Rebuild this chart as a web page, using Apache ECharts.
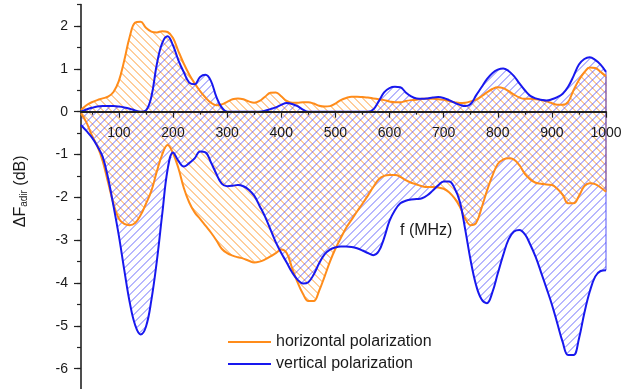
<!DOCTYPE html>
<html>
<head>
<meta charset="utf-8">
<script src="https://cdn.jsdelivr.net/npm/echarts@6/dist/echarts.min.js"></script>
<style>html,body{margin:0;padding:0;background:#fff}#c{width:624px;height:389px}</style>
</head>
<body>
<div id="c"></div>
<script>
// ---- data (f in MHz, values in dB) ----
const freq = [
  30,40,50,60,70,80,90,100,110,120,
  130,140,150,160,170,180,190,200,210,220,
  230,240,250,260,270,280,290,300,310,320,
  330,340,350,360,370,380,390,400,410,420,
  430,440,450,460,470,480,490,500,510,520,
  530,540,550,560,570,580,590,600,610,620,
  630,640,650,660,670,680,690,700,710,720,
  730,740,750,760,770,780,790,800,810,820,
  830,840,850,860,870,880,890,900,910,920,
  930,940,950,960,970,980,990,1000
];
const hUpper = [
  0.04,0.15,0.22,0.27,0.31,0.35,0.46,0.72,1.2,1.75,
  2.08,2.1,1.96,1.87,1.85,1.88,1.86,1.72,1.41,1.12,
  0.87,0.66,0.48,0.33,0.21,0.15,0.17,0.23,0.29,0.31,
  0.29,0.24,0.21,0.25,0.35,0.44,0.45,0.36,0.25,0.21,
  0.21,0.22,0.22,0.19,0.14,0.12,0.13,0.19,0.27,0.32,
  0.35,0.35,0.34,0.33,0.31,0.29,0.27,0.24,0.22,0.22,
  0.25,0.27,0.28,0.3,0.3,0.3,0.29,0.28,0.25,0.22,
  0.2,0.21,0.24,0.28,0.36,0.45,0.53,0.57,0.55,0.48,
  0.4,0.33,0.3,0.3,0.29,0.27,0.24,0.2,0.16,0.16,
  0.23,0.5,0.74,0.92,1.03,1.02,0.93,0.83
];
const hLower = [
  -0.04,-0.25,-0.55,-0.8,-1.15,-1.65,-2.15,-2.5,-2.62,-2.65,
  -2.6,-2.42,-2.15,-1.85,-1.4,-1.0,-0.78,-0.97,-1.32,-1.78,
  -2.12,-2.35,-2.5,-2.66,-2.82,-3.0,-3.2,-3.3,-3.36,-3.4,
  -3.43,-3.48,-3.52,-3.5,-3.45,-3.38,-3.3,-3.22,-3.3,-3.65,
  -3.98,-4.25,-4.42,-4.42,-4.18,-3.85,-3.5,-3.2,-2.95,-2.71,
  -2.52,-2.33,-2.15,-1.96,-1.76,-1.58,-1.5,-1.48,-1.48,-1.52,
  -1.6,-1.66,-1.7,-1.74,-1.76,-1.76,-1.77,-1.8,-1.88,-2.02,
  -2.22,-2.5,-2.65,-2.6,-2.25,-1.85,-1.5,-1.22,-1.12,-1.09,
  -1.12,-1.25,-1.45,-1.58,-1.66,-1.68,-1.7,-1.71,-1.8,-1.94,
  -2.14,-2.14,-1.97,-1.74,-1.67,-1.69,-1.77,-1.87
];
const vUpper = [
  0,0.05,0.09,0.12,0.13,0.13,0.13,0.12,0.1,0.07,
  0.03,0,0.03,0.35,1.1,1.6,1.76,1.55,1.2,0.92,
  0.68,0.64,0.81,0.86,0.72,0.35,0.1,0,0,0,
  0,0,0,0,0.02,0.06,0.1,0.16,0.2,0.18,
  0.13,0.05,0,0,0,0,0,0,0,0,
  0,0,0,0,0.05,0.24,0.45,0.55,0.58,0.57,
  0.45,0.36,0.31,0.3,0.31,0.33,0.34,0.32,0.27,0.21,
  0.16,0.13,0.18,0.38,0.57,0.76,0.9,0.98,1.01,0.95,
  0.83,0.66,0.5,0.37,0.31,0.28,0.26,0.29,0.34,0.42,
  0.58,0.83,1.1,1.23,1.27,1.21,1.1,0.93
];
const vLower = [
  -0.31,-0.45,-0.6,-0.8,-1.05,-1.55,-2.2,-2.9,-3.7,-4.45,
  -4.98,-5.2,-5.02,-4.4,-3.5,-2.4,-1.35,-0.95,-1.15,-1.28,
  -1.2,-1.09,-0.93,-0.95,-1.18,-1.45,-1.68,-1.74,-1.73,-1.71,
  -1.74,-1.82,-1.96,-2.2,-2.45,-2.75,-3.05,-3.3,-3.52,-3.75,
  -3.92,-4.01,-3.98,-3.8,-3.54,-3.33,-3.22,-3.17,-3.15,-3.15,
  -3.16,-3.19,-3.24,-3.3,-3.35,-3.26,-2.95,-2.55,-2.3,-2.14,
  -2.08,-2.05,-2.04,-2.02,-1.95,-1.84,-1.72,-1.63,-1.63,-1.78,
  -2.1,-2.76,-3.48,-4.05,-4.38,-4.47,-4.22,-3.78,-3.35,-2.98,
  -2.8,-2.76,-2.86,-3.1,-3.39,-3.75,-4.12,-4.5,-4.94,-5.38,
  -5.68,-5.68,-5.3,-4.7,-4.2,-3.85,-3.72,-3.7
];
const xTicks = [100,200,300,400,500,600,700,800,900,1000];
const xMinorTicks = [50,150,250,350,450,550,650,750,850,950];
const yTicks = [-6,-5,-4,-3,-2,-1,0,1,2];
const H = 'horizontal polarization';
const V = 'vertical polarization';

// ---- styling ----
const ORANGE = '#FF8C1A';
const BLUE = '#1818EE';
const FONT = '"Liberation Sans", Arial, sans-serif';
const TXT = '#1a1a1a';
const Y_MIN = -6.5, Y_MAX = 2.5;
const GRID_TOP = 4.6, GRID_H = 385.5;
const ZERO_OFFSET = -(GRID_H * (0 - Y_MIN) / (Y_MAX - Y_MIN)); // move x axis from grid bottom up to y = 0

const pairs = ys => freq.map((f, i) => [f, ys[i]]);

// hatch segments of a polygon, computed in pixel space
function hatchSegments(poly, dir, step) {
  const uf = dir === '\\' ? (p => p[0] - p[1]) : (p => p[0] + p[1]);
  let umin = Infinity, umax = -Infinity;
  poly.forEach(p => { const u = uf(p); if (u < umin) umin = u; if (u > umax) umax = u; });
  const n = poly.length, segs = [];
  for (let c = Math.ceil(umin / step) * step + 0.5; c <= umax; c += step) {
    const xs = [];
    for (let i = 0; i < n; i++) {
      const P = poly[i], Q = poly[(i + 1) % n];
      const uP = uf(P), uQ = uf(Q);
      if ((uP < c) !== (uQ < c)) {
        const t = (c - uP) / (uQ - uP);
        xs.push(P[0] + t * (Q[0] - P[0]));
      }
    }
    xs.sort((a, b) => a - b);
    for (let k = 0; k + 1 < xs.length; k += 2) {
      const yOf = x => dir === '\\' ? x - c : c - x;
      segs.push([xs[k], yOf(xs[k]), xs[k + 1], yOf(xs[k + 1])]);
    }
  }
  return segs;
}

function bandSeries(name, up, lo, dir, hatchColor, edge) {
  return {
    type: 'custom', name: name, silent: true, z: 1,
    xAxisIndex: 0, yAxisIndex: 0,
    data: [[freq[0], up[0]]],
    renderItem: function (params, api) {
      const top = freq.map((f, i) => api.coord([f, up[i]]));
      const bot = freq.map((f, i) => api.coord([f, lo[i]])).reverse();
      const poly = top.concat(bot);
      const children = hatchSegments(poly, dir, 8).map(s => ({
        type: 'line', shape: { x1: s[0], y1: s[1], x2: s[2], y2: s[3] },
        style: { stroke: hatchColor, lineWidth: 1 }
      }));
      const n = freq.length - 1;
      children.push({ type: 'line', shape: { x1: top[n][0], y1: top[n][1], x2: bot[0][0], y2: bot[0][1] },
        style: { stroke: edge, lineWidth: 1.5 } });
      return { type: 'group', children: children };
    }
  };
}

const common = { type: 'line', smooth: 0.4, symbol: 'none', showSymbol: false, silent: true,
  emphasis: { disabled: true }, xAxisIndex: 0, yAxisIndex: 0 };

const chart = echarts.init(document.getElementById('c'), null, { renderer: 'canvas' });
chart.setOption({
  animation: false,
  grid: { left: 81, right: 18, top: GRID_TOP, height: GRID_H, containLabel: false, outerBoundsMode: 'none' },
  xAxis: [
    { type: 'value', min: 30, max: 1000, position: 'bottom', offset: ZERO_OFFSET, z: 5,
      axisLine: { onZero: false, lineStyle: { color: '#222', width: 1.8 } },
      axisTick: { show: true, customValues: xTicks, length: 6, lineStyle: { color: '#222', width: 1.2 } },
      axisLabel: { customValues: xTicks, margin: 14, fontSize: 14, color: TXT, fontFamily: FONT,
        formatter: v => String(v) },
      splitLine: { show: false } },
    { type: 'value', min: 30, max: 1000, position: 'bottom', offset: ZERO_OFFSET, z: 5,
      axisLine: { show: false, onZero: false },
      axisTick: { show: true, customValues: xMinorTicks, length: 3, lineStyle: { color: '#222', width: 1.2 } },
      axisLabel: { show: false }, splitLine: { show: false } }
  ],
  yAxis: [
    { type: 'value', min: Y_MIN, max: Y_MAX, interval: 0.5, position: 'left',
      axisLine: { show: true, onZero: false, lineStyle: { color: '#222', width: 1.6 } },
      axisTick: { show: true, length: 4, lineStyle: { color: '#222', width: 1.2 } },
      axisLabel: { show: false }, splitLine: { show: false } },
    { type: 'value', min: Y_MIN, max: Y_MAX, position: 'left',
      axisLine: { show: false, onZero: false },
      axisTick: { show: true, customValues: yTicks, length: 7, lineStyle: { color: '#222', width: 1.2 } },
      axisLabel: { customValues: yTicks, margin: 13, fontSize: 14, color: TXT, fontFamily: FONT },
      splitLine: { show: false },
      name: '{a|ΔF}{s|adir}{a| (dB)}', nameLocation: 'middle', nameRotate: 90, nameGap: 52,
      nameTextStyle: { color: TXT, fontFamily: FONT, padding: [0, 0, 0, 12],
        rich: { a: { fontSize: 16, color: TXT, fontFamily: FONT },
                s: { fontSize: 10, color: TXT, fontFamily: FONT, verticalAlign: 'bottom', padding: [6, 0, 0, 0] } } } }
  ],
  legend: {
    orient: 'vertical', left: 223, top: 329, itemWidth: 43, itemHeight: 2, itemGap: 6,
    textStyle: { fontSize: 16, color: TXT, fontFamily: FONT },
    selectedMode: false,
    data: [ { name: H, icon: 'rect', itemStyle: { color: ORANGE } },
            { name: V, icon: 'rect', itemStyle: { color: BLUE } } ]
  },
  graphic: [
    { type: 'text', left: 400, top: 223, style: { text: 'f (MHz)', fontSize: 16, fill: TXT, fontFamily: FONT } }
  ],
  series: [
    bandSeries(H, hUpper, hLower, '\\', 'rgba(255,140,20,0.85)', 'rgba(255,140,20,0.6)'),
    bandSeries(V, vUpper, vLower, '/', 'rgba(55,55,252,0.72)', 'rgba(50,50,250,0.55)'),
    Object.assign({}, common, { name: H, data: pairs(hLower), lineStyle: { color: ORANGE, width: 2 }, itemStyle: { color: ORANGE }, z: 3 }),
    Object.assign({}, common, { name: H, data: pairs(hUpper), lineStyle: { color: ORANGE, width: 2 }, itemStyle: { color: ORANGE }, z: 3 }),
    Object.assign({}, common, { name: V, data: pairs(vLower), lineStyle: { color: BLUE, width: 2 }, itemStyle: { color: BLUE }, z: 4 }),
    Object.assign({}, common, { name: V, data: pairs(vUpper), lineStyle: { color: BLUE, width: 2 }, itemStyle: { color: BLUE }, z: 4 })
  ]
});
</script>
</body>
</html>
